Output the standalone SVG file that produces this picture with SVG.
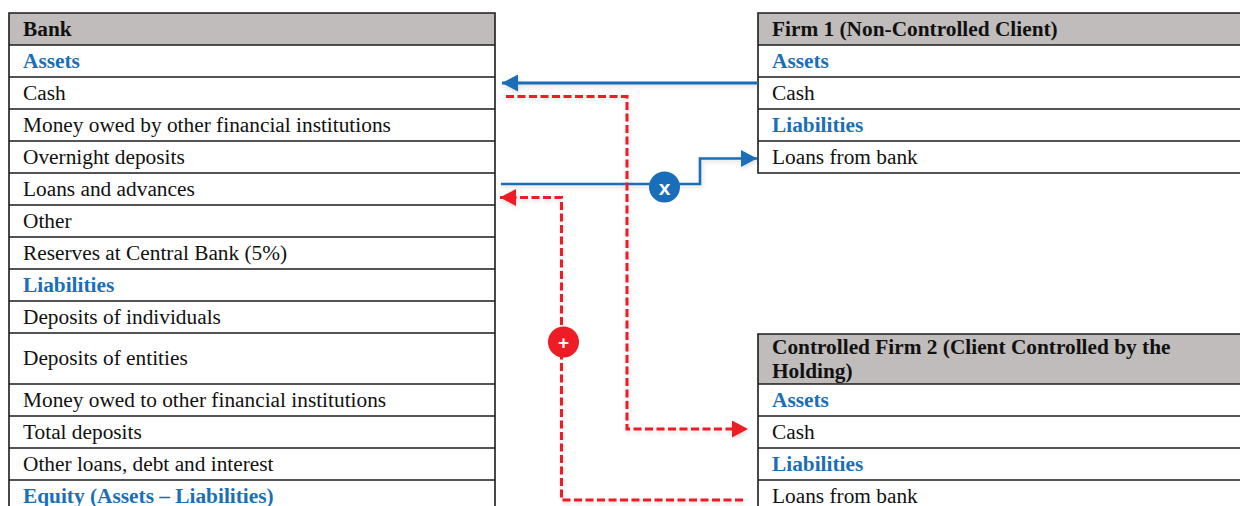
<svg xmlns="http://www.w3.org/2000/svg" width="1240" height="506" viewBox="0 0 1240 506">
<style>
text{font-family:"Liberation Serif","Times New Roman",serif;font-size:21.33px;fill:#111}
.b{font-weight:bold}
.a{font-weight:bold;fill:#1a6fb9}
.h{fill:#c0bcbb}
.l{stroke:#1c1c1c;stroke-width:1.6;fill:none}
.blue{stroke:#1a6db8;fill:none;stroke-width:3}
.thin{stroke-width:2.600}
.red{stroke:#ee1c25;fill:none;stroke-width:3;stroke-dasharray:8 3.5}
text.sym{font-family:"Liberation Sans",Arial,sans-serif;font-weight:bold;fill:#fff;text-anchor:middle}
</style>
<defs>
<filter id="sh" x="-5%" y="-5%" width="110%" height="110%"><feDropShadow dx="1" dy="2" stdDeviation="2" flood-color="#000" flood-opacity=".15"/></filter>
<marker id="ab" markerUnits="userSpaceOnUse" markerWidth="17" markerHeight="17" refX="16" refY="8.500" orient="auto"><path d="M0 0L16 8.500L0 17Z" fill="#1a6db8"/></marker>
<marker id="ar" markerUnits="userSpaceOnUse" markerWidth="17" markerHeight="17" refX="16" refY="8.500" orient="auto"><path d="M0 0L16 8.500L0 17Z" fill="#ee1c25"/></marker>
</defs>
<g id="bank">
<rect class="h" x="9" y="13" width="486" height="32"/>
<path class="l" d="M495 506V13H9V506M9 45H495M9 77H495M9 109H495M9 141H495M9 173H495M9 205H495M9 237H495M9 269H495M9 301H495M9 333H495M9 384H495M9 416H495M9 448H495M9 480H495"/>
<text class="b" x="23" y="36">Bank</text>
<text class="a" x="23" y="68">Assets</text>
<text x="23" y="100">Cash</text>
<text x="23" y="132">Money owed by other financial institutions</text>
<text x="23" y="164">Overnight deposits</text>
<text x="23" y="196">Loans and advances</text>
<text x="23" y="228">Other</text>
<text x="23" y="260">Reserves at Central Bank (5%)</text>
<text class="a" x="23" y="292">Liabilities</text>
<text x="23" y="324">Deposits of individuals</text>
<text x="23" y="365">Deposits of entities</text>
<text x="23" y="407">Money owed to other financial institutions</text>
<text x="23" y="439">Total deposits</text>
<text x="23" y="471">Other loans, debt and interest</text>
<text class="a" x="23" y="503">Equity (Assets – Liabilities)</text>
</g>
<g id="firm1">
<rect class="h" x="758" y="13" width="482" height="32"/>
<path class="l" d="M1240 13H758V173H1240M758 45H1240M758 77H1240M758 109H1240M758 141H1240"/>
<text class="b" x="772" y="36">Firm 1 (Non-Controlled Client)</text>
<text class="a" x="772" y="68">Assets</text>
<text x="772" y="100">Cash</text>
<text class="a" x="772" y="132">Liabilities</text>
<text x="772" y="164">Loans from bank</text>
</g>
<g id="firm2">
<rect class="h" x="758" y="334" width="482" height="50"/>
<path class="l" d="M1240 334H758V506M758 384H1240M758 416H1240M758 448H1240M758 480H1240"/>
<text class="b" x="772" y="354">Controlled Firm 2 (Client Controlled by the</text>
<text class="b" x="772" y="378">Holding)</text>
<text class="a" x="772" y="407">Assets</text>
<text x="772" y="439">Cash</text>
<text class="a" x="772" y="471">Liabilities</text>
<text x="772" y="503">Loans from bank</text>
</g>
<g id="connectors" filter="url(#sh)">
<path class="blue" d="M758 83H502" marker-end="url(#ab)"/>
<path class="blue thin" d="M501 184H700V158.500H757" marker-end="url(#ab)"/>
<path class="red" d="M506 96.500H627V429H748" marker-end="url(#ar)"/>
<path class="red" d="M743 500H561.500V197.500H500" marker-end="url(#ar)"/>
</g>
<g id="badge-x">
<circle cx="664.500" cy="187" r="15.500" fill="#1a6db8"/>
<text class="sym" x="664.500" y="195" font-size="21" style="font-size:21px">x</text>
</g>
<g id="badge-plus">
<circle cx="563.500" cy="342" r="15.500" fill="#ee1c25"/>
<text class="sym" x="563.500" y="349" style="font-size:19px">+</text>
</g>
</svg>
